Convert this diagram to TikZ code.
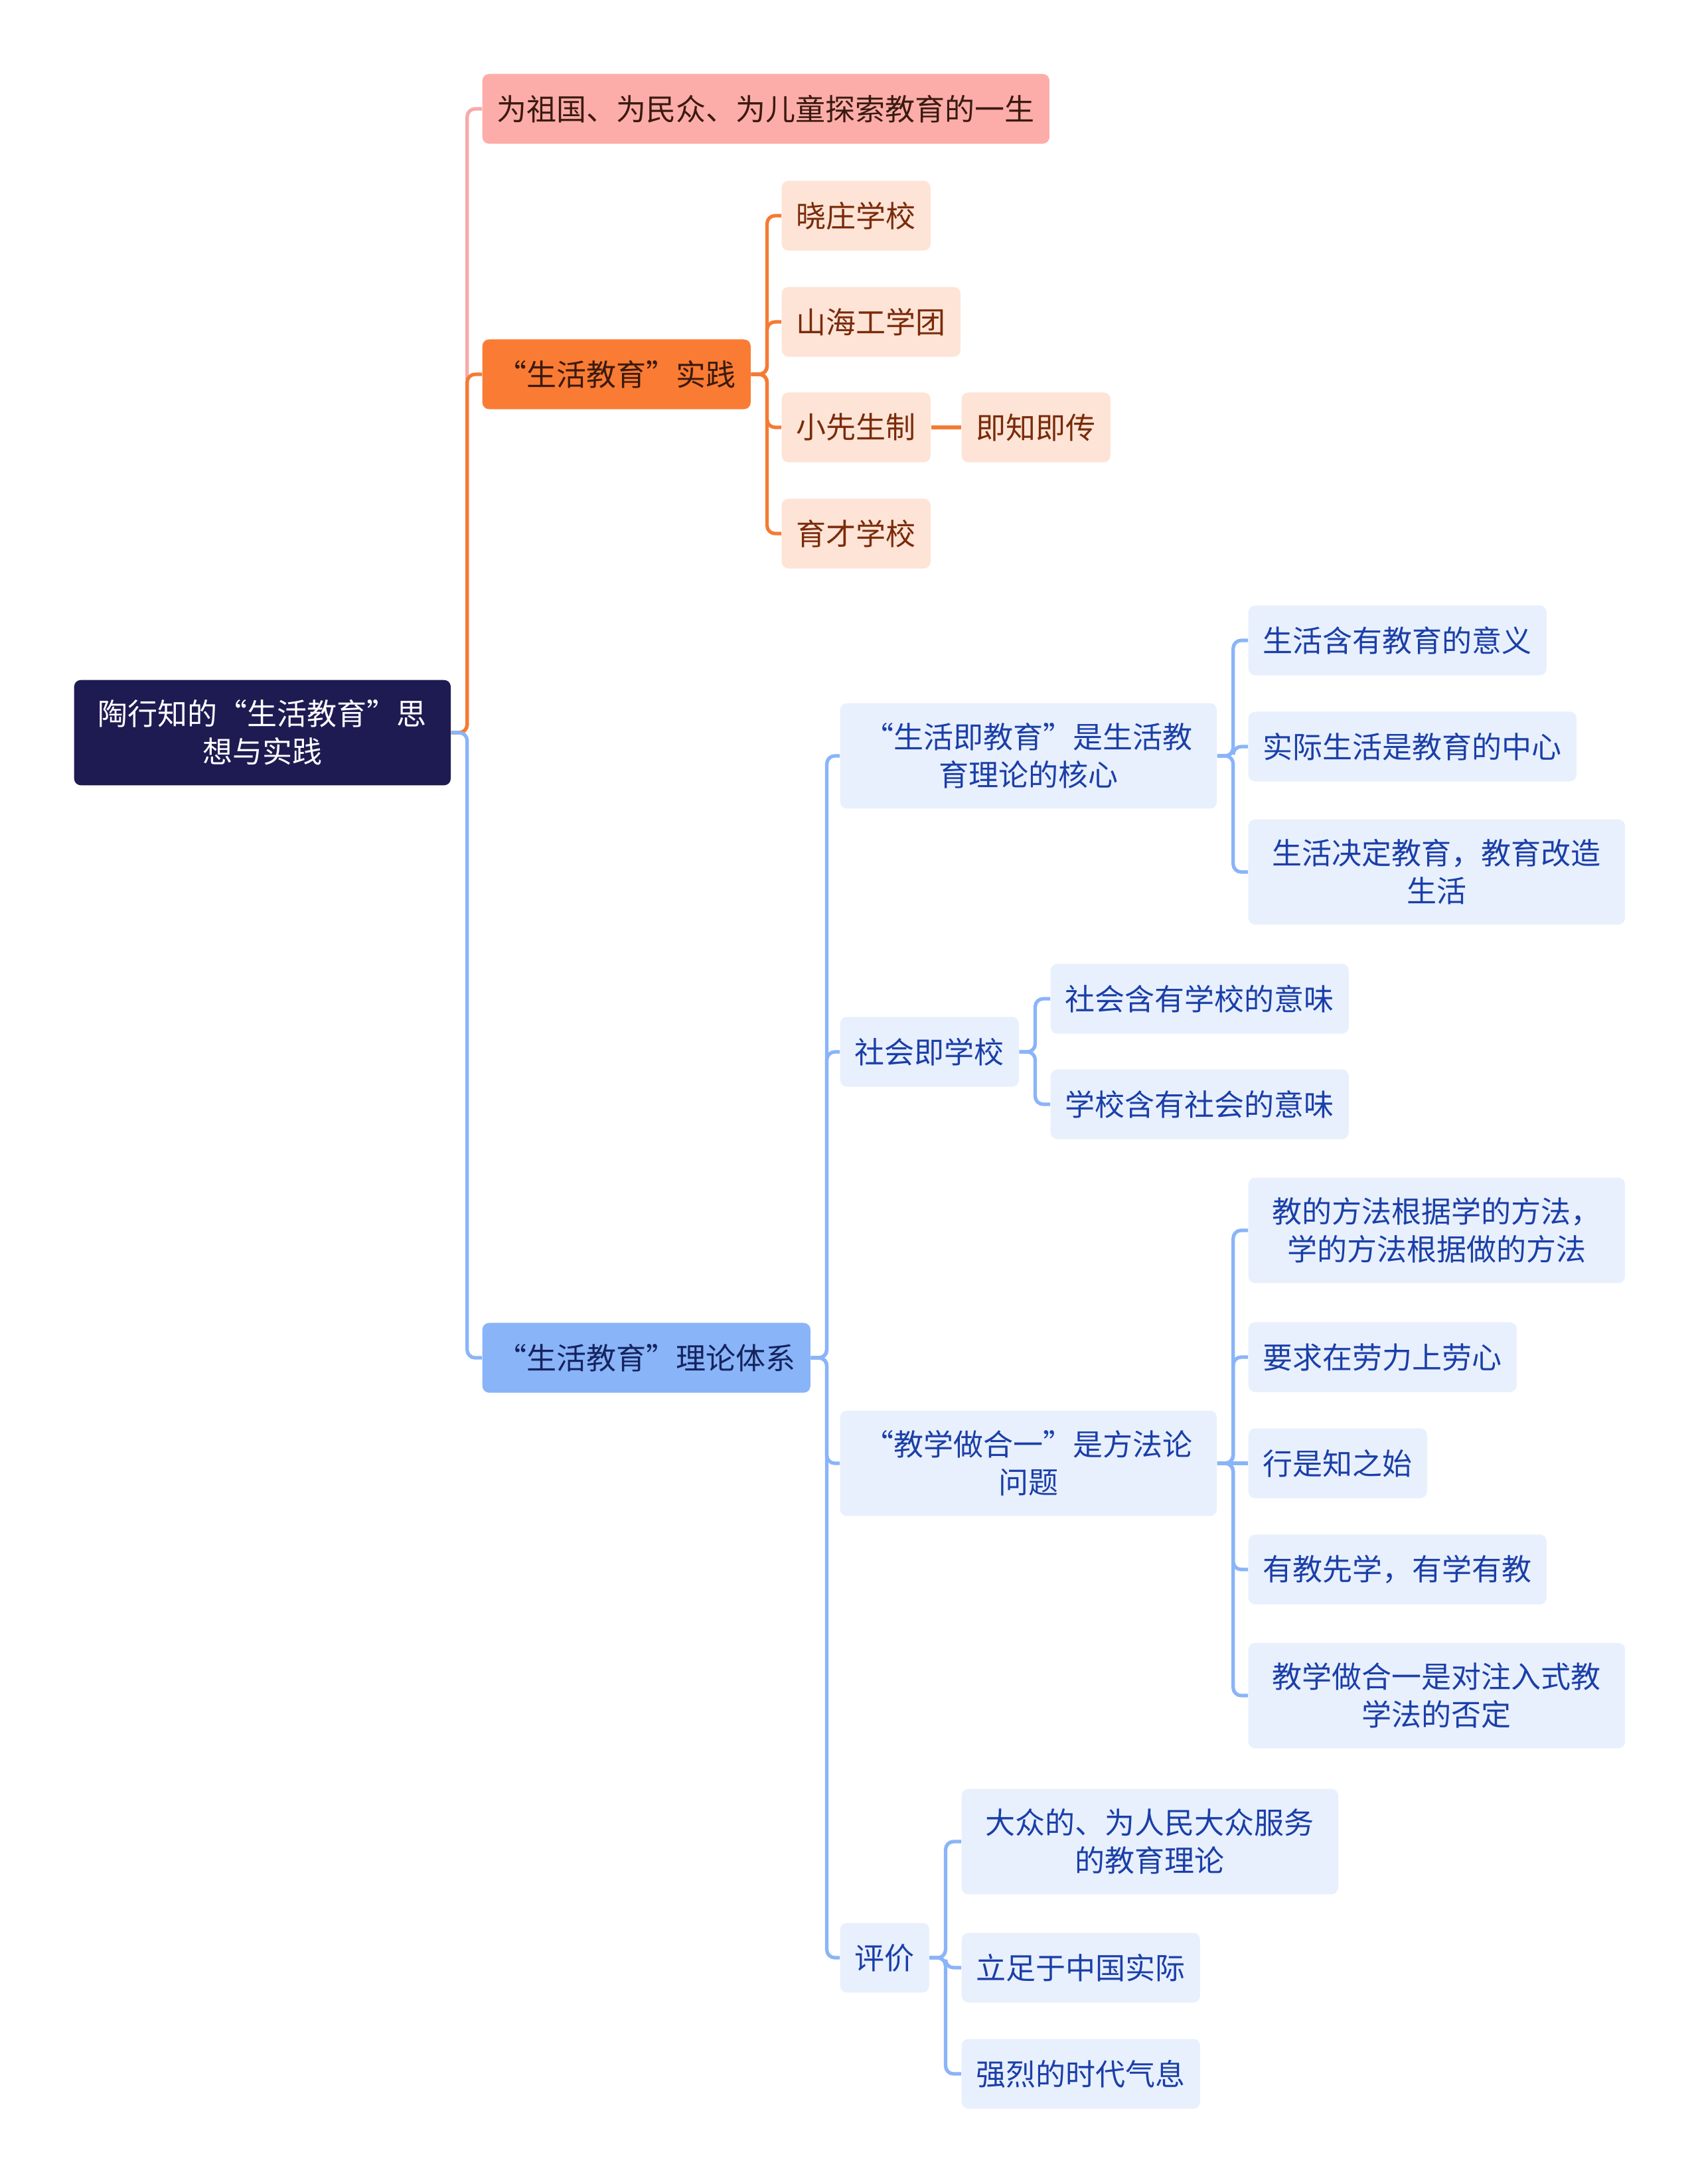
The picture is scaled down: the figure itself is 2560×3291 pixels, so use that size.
\documentclass[tikz,border=0pt]{standalone}
\usepackage{fontspec}
\setmainfont{Noto Sans CJK SC}
\usepackage{tikz}
\definecolor{rootfill}{HTML}{1E1B52}
\definecolor{pinkfill}{HTML}{FDADA9}
\definecolor{orangefill}{HTML}{FA7B33}
\definecolor{bluefill}{HTML}{8AB4F8}
\definecolor{peachfill}{HTML}{FDE4D6}
\definecolor{skyfill}{HTML}{E8F0FD}
\definecolor{pinkline}{HTML}{F7AAA7}
\definecolor{orangeline}{HTML}{F47B34}
\definecolor{blueline}{HTML}{8AB4F8}
\definecolor{browntext}{HTML}{7A2B0A}
\definecolor{darktext}{HTML}{3A1A10}
\definecolor{navytext}{HTML}{14235E}
\definecolor{bluetext}{HTML}{1B3FA8}
\tikzset{
  topic/.style={rounded corners=0.1cm, inner xsep=0.22cm, inner ysep=0.3cm,
    minimum height=1.05cm, anchor=west, font=\fontsize{12.8pt}{16.2pt}\selectfont},
  wide/.style={text width=5.23cm, align=center},
  rootbox/.style={topic, fill=rootfill, text=white},
  lifebox/.style={topic, fill=pinkfill, text=darktext},
  pracbox/.style={topic, fill=orangefill, text=darktext},
  theobox/.style={topic, fill=bluefill, text=navytext},
  peach/.style={topic, fill=peachfill, text=browntext},
  sky/.style={topic, fill=skyfill, text=bluetext},
  branch/.style={line width=1.5pt, rounded corners=0.12cm}
}

\begin{document}
\begin{tikzpicture}[x=0.01cm, y=-0.01cm]
  \useasboundingbox (0,0) rectangle (2560,3291);
  % root and main branches
  \node[rootbox, wide] (root) at (111,1104) {陶行知的“生活教育”思\\想与实践};
  \node[lifebox] (life) at (726,164) {为祖国、为民众、为儿童探索教育的一生};
  \node[pracbox] (prac) at (726,564) {“生活教育”实践};
  \node[theobox] (theo) at (726,2046) {“生活教育”理论体系};
  % practice
  \node[peach] (xz) at (1177,325) {晓庄学校};
  \node[peach] (sh) at (1177,485) {山海工学团};
  \node[peach] (xxs) at (1177,644) {小先生制};
  \node[peach] (jzjc) at (1448,644) {即知即传};
  \node[peach] (yc) at (1177,804) {育才学校};
  % theory
  \node[sky, wide] (core) at (1265,1139) {“生活即教育”是生活教\\育理论的核心};
  \node[sky] (soc) at (1265,1585) {社会即学校};
  \node[sky, wide] (tlo) at (1265,2205) {“教学做合一”是方法论\\问题};
  \node[sky] (eval) at (1265,2950) {评价};
  \node[sky] (c1) at (1880,965) {生活含有教育的意义};
  \node[sky] (c2) at (1880,1125) {实际生活是教育的中心};
  \node[sky, wide] (c3) at (1880,1314) {生活决定教育，教育改造\\生活};
  \node[sky] (s1) at (1582,1505) {社会含有学校的意味};
  \node[sky] (s2) at (1582,1664) {学校含有社会的意味};
  \node[sky, wide] (t1) at (1880,1854) {教的方法根据学的方法，\\学的方法根据做的方法};
  \node[sky] (t2) at (1880,2045) {要求在劳力上劳心};
  \node[sky] (t3) at (1880,2205) {行是知之始};
  \node[sky] (t4) at (1880,2365) {有教先学，有学有教};
  \node[sky, wide] (t5) at (1880,2555) {教学做合一是对注入式教\\学法的否定};
  \node[sky, wide] (e1) at (1448,2775) {大众的、为人民大众服务\\的教育理论};
  \node[sky] (e2) at (1448,2965) {立足于中国实际};
  \node[sky] (e3) at (1448,3125) {强烈的时代气息};
  % connectors
  \draw[branch, pinkline] (root.east) -- ++(24,0) |- (life.west);
  \draw[branch, orangeline] (root.east) -- ++(24,0) |- (prac.west);
  \draw[branch, blueline] (root.east) -- ++(24,0) |- (theo.west);
  \foreach \c in {xz,sh,xxs,yc}
    \draw[branch, orangeline] (prac.east) -- ++(24,0) |- (\c.west);
  \draw[branch, orangeline] (xxs.east) -- (jzjc.west);
  \foreach \c in {core,soc,tlo,eval}
    \draw[branch, blueline] (theo.east) -- ++(24,0) |- (\c.west);
  \foreach \c in {c1,c2,c3}
    \draw[branch, blueline] (core.east) -- ++(24,0) |- (\c.west);
  \foreach \c in {s1,s2}
    \draw[branch, blueline] (soc.east) -- ++(24,0) |- (\c.west);
  \foreach \c in {t1,t2,t4,t5}
    \draw[branch, blueline] (tlo.east) -- ++(24,0) |- (\c.west);
  \draw[branch, blueline] (tlo.east) -- (t3.west);
  \foreach \c in {e1,e2,e3}
    \draw[branch, blueline] (eval.east) -- ++(24,0) |- (\c.west);
\end{tikzpicture}
\end{document}
